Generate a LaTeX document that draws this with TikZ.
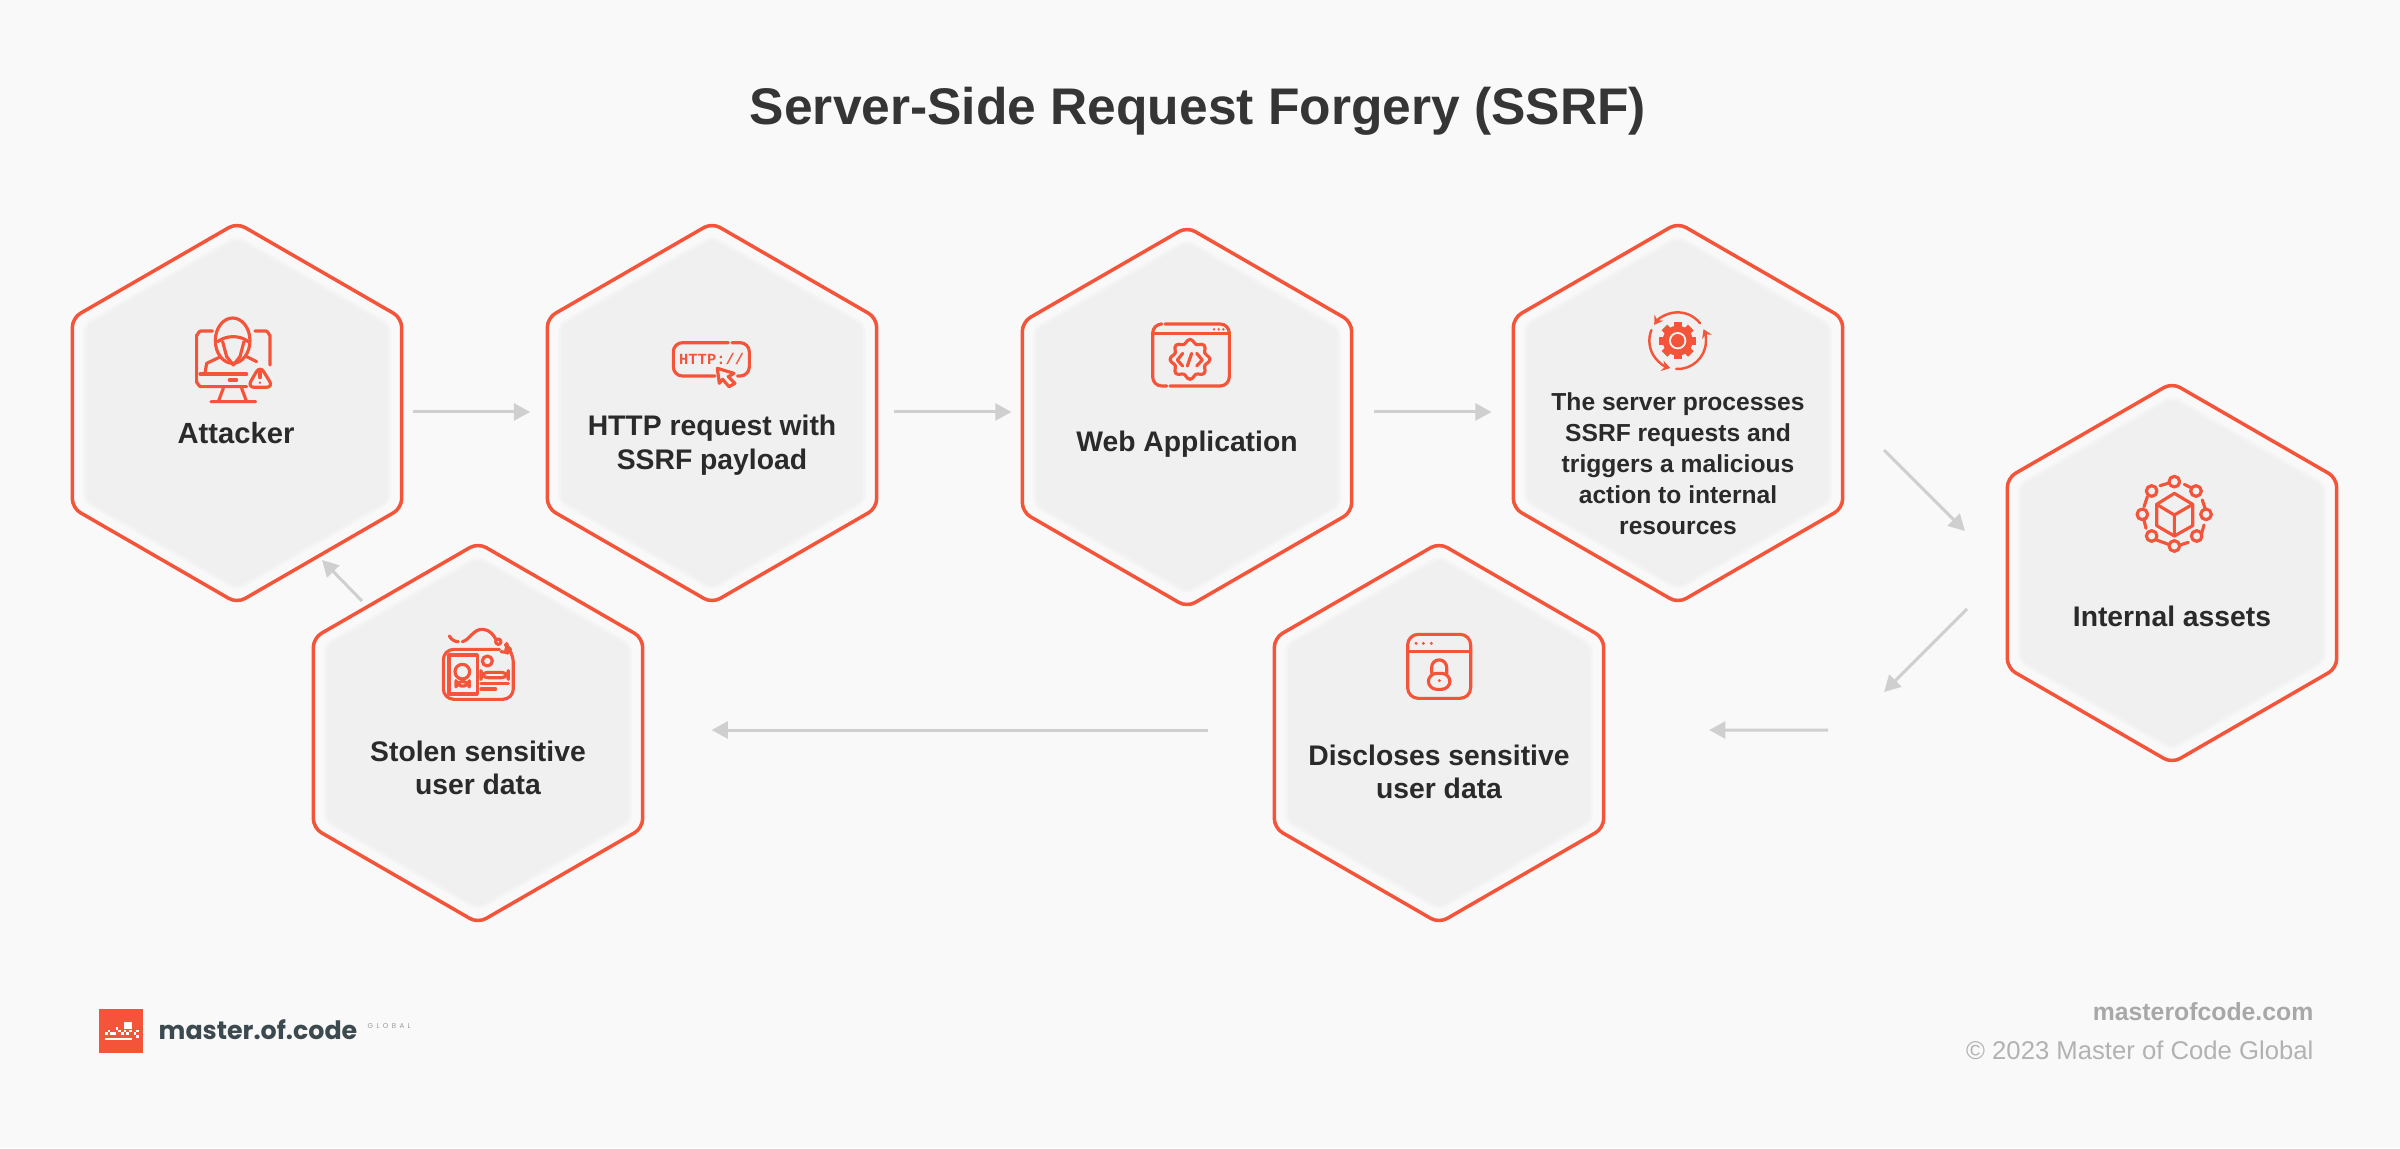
\documentclass[tikz,border=0pt]{standalone}
\usepackage{fontspec}
\setmainfont{Liberation Sans}
\newfontfamily\logofont{Poppins}
\newfontfamily\httpfont{Liberation Mono}
\usetikzlibrary{arrows.meta,shapes.geometric}
\definecolor{cO}{HTML}{F4553A}
\definecolor{cB}{HTML}{F9F9F9}
\definecolor{cI}{HTML}{F0F0F0}
\definecolor{cH}{HTML}{F4F4F4}
\definecolor{cG}{HTML}{CFCFCF}
\definecolor{cT}{HTML}{2A2A2A}
\definecolor{cL}{HTML}{3C4A50}
\tikzset{
  hexout/.style={regular polygon,regular polygon sides=6,regular polygon rotate=30,
              minimum size=3.8cm,inner sep=0pt,outer sep=0pt,draw=cO,line width=1pt,rounded corners=2.6pt,fill=cB},
  hexin/.style={regular polygon,regular polygon sides=6,regular polygon rotate=30,
              minimum size=3.52cm,inner sep=0pt,outer sep=0pt,draw=cH,line width=.8pt,rounded corners=2pt,fill=cI},
  lbl/.style={align=center,text=cT,font=\fontsize{8.05}{9.3}\selectfont\bfseries},
  iconl/.style={draw=cO,line width=.9pt,line cap=round,line join=round},
  flow/.style={-{Triangle[length=4.6pt,width=4.8pt]},draw=cG,line width=.85pt},
  foot/.style={anchor=east,inner sep=0pt},
}

\begin{document}
\begin{tikzpicture}[x=.01cm,y=-.01cm]
  \fill[cB] (0,0) rectangle (2400,1148);
  \node[font=\fontsize{14.65}{16}\selectfont\bfseries,text=cT!95!white](title) at (1198,111){Server-Side Request Forgery (SSRF)};
  \foreach \name/\px/\py in {attacker/237/413,http/712/413,web/1187/417,server/1678/413,
      internal/2172/573,stolen/478/733,discloses/1439/733}{
    \node[hexout](\name) at (\px,\py){};
    \node[hexin](\name-in) at (\px,\py){};
  }
  \node[lbl,font=\fontsize{8.3}{9.3}\selectfont\bfseries](attacker-txt) at (236,433){Attacker};
  \node[lbl](http-txt) at (712,445){HTTP request with\\[.4pt]SSRF payload};
  \node[lbl](web-txt) at (1187,444){Web Application};
  \node[lbl,font=\fontsize{7}{8.8}\selectfont\bfseries](server-txt) at (1678,464){The server processes\\SSRF requests and\\triggers a malicious\\action to internal\\resources};
  \node[lbl](internal-txt) at (2172,616){Internal assets};
  \node[lbl](stolen-txt) at (478,768){Stolen sensitive\\[.2pt]user data};
  \node[lbl](discloses-txt) at (1439,772){Discloses sensitive\\[.2pt]user data};

  \coordinate (srvout) at (1884,450);
  \coordinate (intin) at (1965,531);
  \coordinate (intout) at (1967,609);
  \coordinate (midbot) at (1884,692);
  \coordinate (dscin) at (1828,730);
  \coordinate (stlout) at (362,601);
  \coordinate (attin) at (322,560);
  \draw[flow,shorten <=3.1pt,shorten >=4.9pt] ([yshift=.3pt]attacker.east) -- ([yshift=.3pt]http.west);
  \draw[flow,shorten <=4.9pt,shorten >=3.1pt] ([yshift=.3pt]http.east) -- ([yshift=.3pt]http.east -| web.west);
  \draw[flow,shorten <=6.4pt,shorten >=6.2pt] ([yshift=.3pt]web.east |- server.west) -- ([yshift=.3pt]server.west);
  \draw[flow] (srvout) -- (intin);
  \draw[flow] (intout) -- (midbot);
  \draw[flow,shorten >=30pt] (dscin) -- ([yshift=.85pt]discloses.east);
  \draw[flow,shorten <=18.8pt,shorten >=19.6pt] ([yshift=.85pt]discloses.west) -- ([yshift=.85pt]stolen.east);
  \draw[flow] (stlout) -- (attin);

  % attacker
  \begin{scope}[shift={(50,200)},scale=.3333]
    \draw[iconl] (488,393) -- (452,393) to[out=180,in=-90] (440,405) -- (440,548) to[out=90,in=180] (452,560) -- (590,560);
    \draw[iconl] (615,393) -- (648,393) to[out=0,in=-90] (660,405) -- (660,495);
    \draw[iconl] (450,522) -- (590,522) (538,540) -- (560,540);
    \draw[iconl] (520,565) -- (505,605) (575,565) -- (590,605) (483,605) -- (617,605);
    \draw[iconl] (548,422) circle[x radius=52,y radius=68];
    \draw[iconl] (503,425) .. controls (530,405) and (570,405) .. (595,425);
    \draw[iconl] (518,425) -- (530,470) -- (550,495) -- (570,470) -- (582,425);
    \draw[iconl] (465,520) -- (470,490) -- (508,472) (590,470) -- (620,485);
    \draw[iconl,fill=cI,rounded corners=2pt] (630,497) -- (670,562) -- (592,562) -- cycle;
    \draw[iconl] (630,515) -- (630,533);
    \fill[cO] (630,548) circle[radius=4];
  \end{scope}

  % http request
  \begin{scope}[shift={(660,320)},scale=.3333]
    \draw[iconl,rounded corners=2.6pt] (205,68) -| (40,168) -- (165,168);
    \draw[iconl,rounded corners=2.6pt] (216,68) -| (268,168) -- (232,168);
    \node[text=cO,inner sep=0pt,font=\httpfont\fontsize{4.4}{5}\selectfont\bfseries](http-icon) at (155,117){HTTP://};
    \draw[iconl,fill=cI] (172,145) -- (222,160) -- (205,170) -- (225,190) -- (207,200) -- (188,178) -- (178,190) -- cycle;
  \end{scope}

  % web application
  \begin{scope}[shift={(1140,310)},scale=.3333]
    \draw[iconl,rounded corners=2.6pt] (62,42) -| (38,228) -- (80,228);
    \draw[iconl,rounded corners=2.6pt] (75,42) -| (268,228) -- (90,228);
    \draw[iconl] (38,70) -- (268,70);
    \foreach \dx in {222,236,250}{\fill[cO] (\dx,58) circle[radius=4];}
    \draw[iconl] plot[smooth cycle,domain=0:352.5,samples=48] ({150+(54+6*cos(8*\x))*cos(\x)},{148+(54+6*cos(8*\x))*sin(\x)});
    \draw[iconl] (128,130) -- (112,150) -- (128,168) (155,130) -- (142,168) (170,130) -- (187,150) -- (170,168);
  \end{scope}

  % server gear
  \begin{scope}[shift={(1630,300)},scale=.3333]
    \foreach \a in {0,45,135,90}{
      \fill[cO,rotate around={\a:(143,122)}] (131,66) rectangle (155,178);
    }
    \fill[cO] (143,122) circle[radius=45];
    \fill[cI] (143,122) circle[radius=26];
    \fill[cO] (143,122) circle[radius=20];
    \draw[iconl,line width=.7pt,-{Stealth[length=2.4pt,width=3pt]}] (143,122) ++(-38:85) arc[start angle=-38,end angle=-146,radius=85];
    \draw[iconl,line width=.7pt,-{Stealth[length=2.4pt,width=3pt]}] (143,122) ++(93:85) arc[start angle=93,end angle=-24,radius=85];
    \draw[iconl,line width=.7pt,-{Stealth[length=2.4pt,width=3pt]}] (143,122) ++(202:85) arc[start angle=202,end angle=105,radius=85];
  \end{scope}

  % internal assets
  \begin{scope}[shift={(2120,465)},scale=.3333]
    \draw[iconl] (163,85) -- (218,118) -- (218,182) -- (163,213) -- (110,182) -- (110,118) -- cycle;
    \draw[iconl] (110,118) -- (163,150) -- (218,118) (163,150) -- (163,213);
    \foreach \cx/\cy in {163/50,95/78,228/78,67/148,258/148,95/213,230/213,163/243}{
      \draw[iconl] (\cx,\cy) circle[radius=16];
    }
    \draw[iconl] (120,62) -- (147,54) (193,58) -- (213,68) (247,105) -- (255,130) (252,180) -- (245,205);
    \draw[iconl] (205,232) -- (180,240) (145,238) -- (110,225) (72,165) -- (78,190) (72,125) -- (82,95);
  \end{scope}

  % stolen data
  \begin{scope}[shift={(400,610)},scale=.3333]
    \draw[iconl,rounded corners=3pt] (298,118) -- (130,118) -- (130,268) -- (340,268) -- (340,125) -- (332,118);
    \draw[iconl] (147,135) rectangle (232,252);
    \draw[iconl] (187,185) circle[radius=22];
    \draw[iconl,rounded corners=1.5pt] (168,215) rectangle (208,228);
    \draw[iconl] (262,153) circle[radius=15];
    \draw[iconl,rounded corners=2pt] (243,187) rectangle (325,203);
    \draw[iconl] (243,220) -- (325,220) (243,237) -- (287,237);
    \draw[iconl] (148,78) .. controls (155,90) and (165,95) .. (175,95);
    \draw[iconl] (187,95) .. controls (210,90) and (220,55) .. (250,58) .. controls (270,60) and (280,75) .. (288,88);
    \draw[iconl] (295,95) circle[radius=8];
    \draw[iconl] (320,100) .. controls (328,110) and (310,115) .. (322,130) (303,125) -- (326,128);
  \end{scope}

  % disclosed data
  \begin{scope}[shift={(1380,610)},scale=.3333]
    \draw[iconl,rounded corners=3pt] (83,73) rectangle (272,265);
    \draw[iconl] (83,124) -- (272,124);
    \foreach \dx in {108,130,154}{\fill[cO] (\dx,100) circle[radius=5];}
    \draw[iconl,rounded corners=2.4pt] (145,190) rectangle (210,238);
    \draw[iconl] (155,190) -- (155,172) arc[start angle=180,end angle=360,radius=22.5] -- (200,190);
    \fill[cO] (178,212) circle[radius=5];
  \end{scope}

  % logo
  \begin{scope}[shift={(95,1005)},scale=.3333]
    \fill[cO] (12,12) rectangle (145,145);
    \fill[white] (88,50) rectangle (110,72);
    \fill[white] (30,98) rectangle (112,104);
    \foreach \sx/\sy in {30/82,38/74,46/82,54/82,62/66,70/74,78/82,86/74,94/82,102/74,116/82,124/74,124/90}{
      \fill[white] (\sx,\sy) rectangle ++(8,8);
    }
  \end{scope}
  \node[anchor=west,inner sep=0pt,text=cL,font=\logofont\fontsize{7.2}{9}\selectfont\bfseries](logo-txt) at (158,1030){master.of.code};
  \node[anchor=west,inner sep=0pt,text=cL!55!white,font=\logofont\fontsize{2}{3}\selectfont\addfontfeatures{LetterSpace=48}](logo-sub) at (367,1026){GLOBAL};

  \node[foot,text=black!34,font=\fontsize{7.05}{8}\selectfont\bfseries](site) at (2314,1012){masterofcode.com};
  \node[foot,text=black!30,font=\fontsize{7.3}{8}\selectfont](copy) at (2314,1050){© 2023 Master of Code Global};
\end{tikzpicture}
\end{document}
